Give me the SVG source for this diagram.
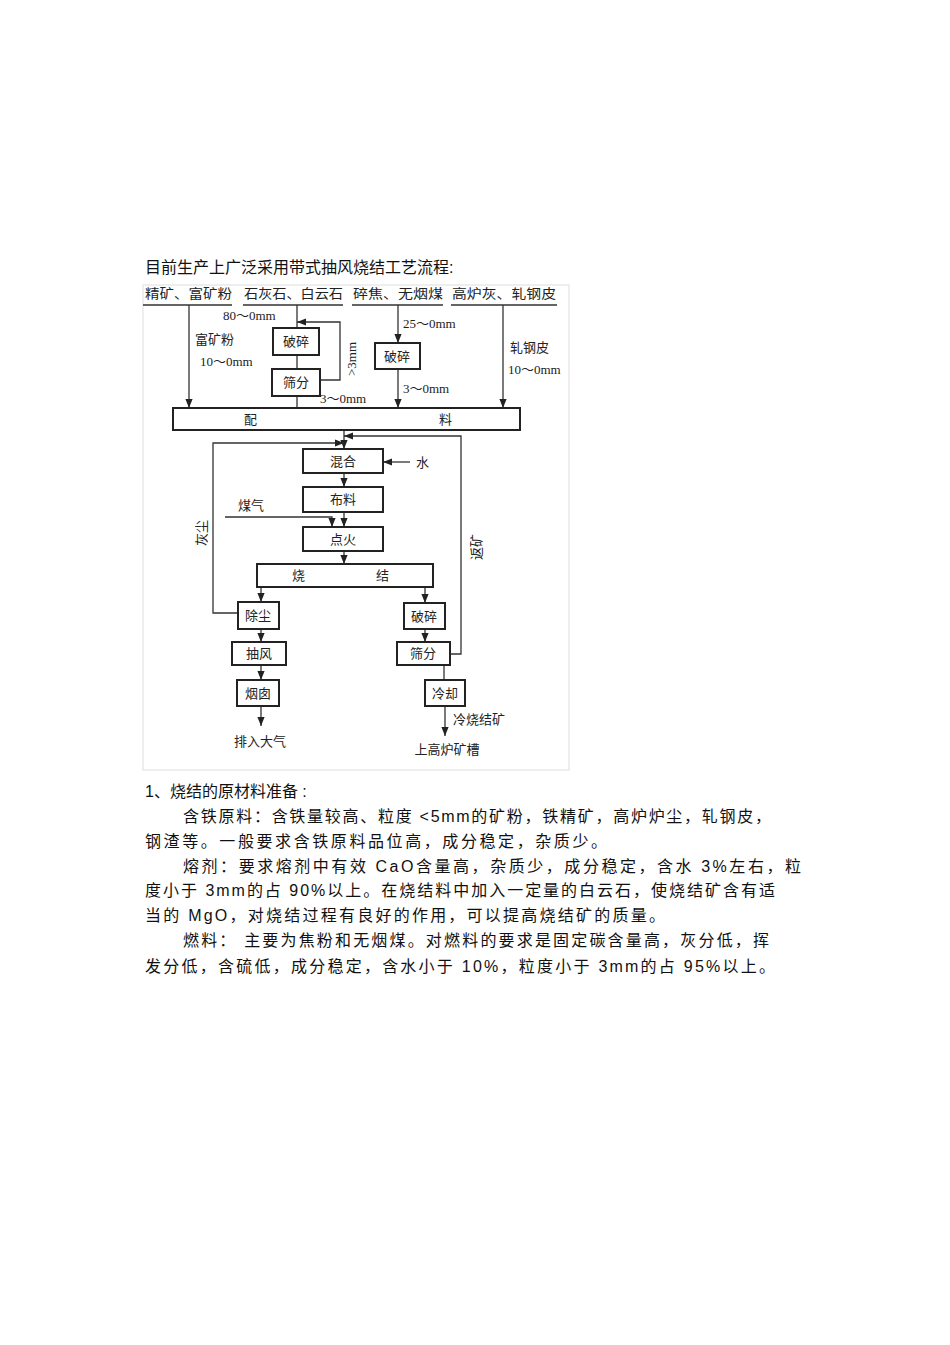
<svg xmlns="http://www.w3.org/2000/svg" width="950" height="1345" viewBox="0 0 950 1345">
<defs>
<marker id="a" viewBox="0 0 10 10" refX="10" refY="5" markerWidth="7" markerHeight="7" orient="auto"><path d="M0,1 L10,5 L0,9 z" fill="#222"/></marker>
<style>
.t{font-family:"Liberation Serif","Noto Sans CJK SC",serif;font-size:13px;fill:#222}
.p{font-family:"Liberation Sans","Noto Sans CJK SC",sans-serif;font-size:16px;fill:#111}
.b{fill:#fff;stroke:#222;stroke-width:2}
.l{fill:none;stroke:#333;stroke-width:1.3}
.c{text-anchor:middle}
</style>
</defs>
<rect width="950" height="1345" fill="#fff"/>
<text class="p" x="145" y="273">目前生产上广泛采用带式抽风烧结工艺流程:</text>
<rect x="143" y="285" width="426" height="485" fill="none" stroke="#ddd"/>
<g id="headers">
<text class="t" x="145" y="298" textLength="87" lengthAdjust="spacingAndGlyphs">精矿、富矿粉</text>
<text class="t" x="244" y="298" textLength="99" lengthAdjust="spacingAndGlyphs">石灰石、白云石</text>
<text class="t" x="353" y="298" textLength="90" lengthAdjust="spacingAndGlyphs">碎焦、无烟煤</text>
<text class="t" x="452" y="298" textLength="104" lengthAdjust="spacingAndGlyphs">高炉灰、轧钢皮</text>
<path class="l" d="M143,305H232M243,305H343M352,305H443M451,305H557"/>
</g>
<g id="connectors">
<path class="l" d="M189,305V408" marker-end="url(#a)"/>
<path class="l" d="M297,305V328M297,355V369M297,396V408"/>
<path class="l" d="M320,380H340V322H297" marker-end="url(#a)"/>
<path class="l" d="M398,305V343" marker-end="url(#a)"/>
<path class="l" d="M398,369V408" marker-end="url(#a)"/>
<path class="l" d="M503,305V408" marker-end="url(#a)"/>
<path class="l" d="M344,430V449" marker-end="url(#a)"/>
<path class="l" d="M238,613H213V443H344" marker-end="url(#a)"/>
<path class="l" d="M450,654H461V436H344" marker-end="url(#a)"/>
<path class="l" d="M410,462H383" marker-end="url(#a)"/>
<path class="l" d="M344,473V487" marker-end="url(#a)"/>
<path class="l" d="M344,512V527" marker-end="url(#a)"/>
<path class="l" d="M225,517H332V527" marker-end="url(#a)"/>
<path class="l" d="M344,551V564" marker-end="url(#a)"/>
<path class="l" d="M261,587V602" marker-end="url(#a)"/>
<path class="l" d="M261,629V642" marker-end="url(#a)"/>
<path class="l" d="M261,665V680" marker-end="url(#a)"/>
<path class="l" d="M261,706V726" marker-end="url(#a)"/>
<path class="l" d="M425,587V603" marker-end="url(#a)"/>
<path class="l" d="M425,629V642" marker-end="url(#a)"/>
<path class="l" d="M444,665V680"/>
<path class="l" d="M445,706V736" marker-end="url(#a)"/>
</g>
<g id="labels">
<text class="t" x="223" y="320">80～0mm</text>
<text class="t" x="195" y="344">富矿粉</text>
<text class="t" x="200" y="366">10～0mm</text>
<text class="t" transform="translate(356,376) rotate(-90)">&gt;3mm</text>
<text class="t" x="320" y="403">3～0mm</text>
<text class="t" x="403" y="328">25～0mm</text>
<text class="t" x="403" y="393">3～0mm</text>
<text class="t" x="510" y="352">轧钢皮</text>
<text class="t" x="508" y="374">10～0mm</text>
<text class="t" x="416" y="467">水</text>
<text class="t" x="238" y="510">煤气</text>
<text class="t" transform="translate(206,546) rotate(-90)">灰尘</text>
<text class="t" transform="translate(481,560) rotate(-90)">返矿</text>
<text class="t c" x="260" y="746">排入大气</text>
<text class="t" x="453" y="724">冷烧结矿</text>
<text class="t c" x="447" y="754">上高炉矿槽</text>
</g>
<g id="peiliao"><rect class="b" x="173" y="408" width="347" height="22"/><text class="t" x="244" y="424">配</text><text class="t" x="439" y="424">料</text></g>
<g id="crush1"><rect class="b" x="273" y="328" width="46" height="27"/><text class="t c" x="296" y="346">破碎</text></g>
<g id="screen1"><rect class="b" x="272" y="369" width="48" height="27"/><text class="t c" x="296" y="387">筛分</text></g>
<g id="crush2"><rect class="b" x="375" y="343" width="45" height="26"/><text class="t c" x="397" y="361">破碎</text></g>
<g id="mix"><rect class="b" x="303" y="449" width="80" height="24"/><text class="t c" x="343" y="466">混合</text></g>
<g id="buliao"><rect class="b" x="303" y="487" width="80" height="25"/><text class="t c" x="343" y="504">布料</text></g>
<g id="ignite"><rect class="b" x="303" y="527" width="80" height="24"/><text class="t c" x="343" y="544">点火</text></g>
<g id="sinter"><rect class="b" x="257" y="564" width="176" height="23"/><text class="t" x="292" y="580">烧</text><text class="t" x="376" y="580">结</text></g>
<g id="dust"><rect class="b" x="238" y="602" width="41" height="27"/><text class="t c" x="258" y="620">除尘</text></g>
<g id="fan"><rect class="b" x="232" y="642" width="54" height="23"/><text class="t c" x="259" y="658">抽风</text></g>
<g id="chimney"><rect class="b" x="237" y="680" width="42" height="26"/><text class="t c" x="258" y="698">烟囱</text></g>
<g id="crush3"><rect class="b" x="404" y="603" width="41" height="26"/><text class="t c" x="424" y="621">破碎</text></g>
<g id="screen2"><rect class="b" x="397" y="642" width="53" height="23"/><text class="t c" x="423" y="658">筛分</text></g>
<g id="cool"><rect class="b" x="425" y="680" width="40" height="26"/><text class="t c" x="445" y="698">冷却</text></g>
<g id="body">
<text class="p" x="145" y="797">1、烧结的原材料准备 :</text>
<text class="p" x="183" y="822" textLength="588" lengthAdjust="spacing">含铁原料：含铁量较高、粒度  &lt;5mm的矿粉，铁精矿，高炉炉尘，轧钢皮，</text>
<text class="p" x="145" y="847" textLength="462" lengthAdjust="spacing">钢渣等。一般要求含铁原料品位高，成分稳定，杂质少。</text>
<text class="p" x="183" y="872" textLength="618" lengthAdjust="spacing">熔剂：要求熔剂中有效  CaO含量高，杂质少，成分稳定，含水  3%左右，粒</text>
<text class="p" x="145" y="896" textLength="630" lengthAdjust="spacing">度小于 3mm的占 90%以上。在烧结料中加入一定量的白云石，使烧结矿含有适</text>
<text class="p" x="145" y="921" textLength="520" lengthAdjust="spacing">当的 MgO，对烧结过程有良好的作用，可以提高烧结矿的质量。</text>
<text class="p" x="183" y="946" textLength="586" lengthAdjust="spacing">燃料：  主要为焦粉和无烟煤。对燃料的要求是固定碳含量高，灰分低，挥</text>
<text class="p" x="145" y="972" textLength="630" lengthAdjust="spacing">发分低，含硫低，成分稳定，含水小于  10%，粒度小于  3mm的占 95%以上。</text>
</g>
</svg>
